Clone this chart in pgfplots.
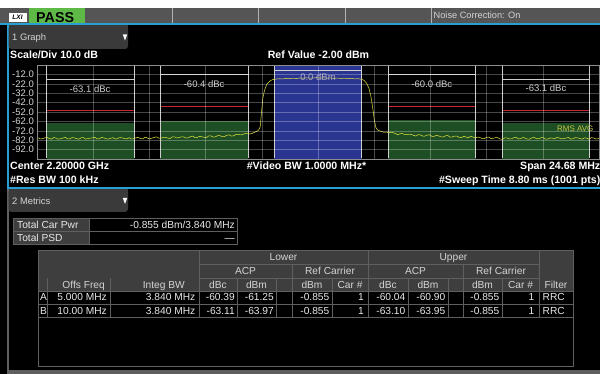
\documentclass[border=0pt]{standalone}
\usepackage{fontspec}
\setmainfont{Liberation Sans}
\usepackage{pgfplots}
\pgfplotsset{compat=1.18}
\definecolor{trace}{RGB}{228,228,60}
\definecolor{greenbox}{RGB}{30,78,36}
\definecolor{bluebox}{RGB}{42,52,145}
\definecolor{limred}{RGB}{200,40,45}
\definecolor{bracket}{RGB}{205,205,205}
\definecolor{topgray}{RGB}{85,85,85}
\definecolor{bluebar}{RGB}{40,160,215}
\definecolor{dropgray}{RGB}{58,58,58}
\definecolor{passgreen}{RGB}{95,185,70}
\definecolor{hdrgray}{RGB}{62,62,62}
\definecolor{cellline}{RGB}{95,95,95}
\definecolor{hdrtext}{RGB}{212,212,212}
\definecolor{datatext}{RGB}{232,232,232}
\definecolor{rmsavg}{RGB}{200,200,70}
\newcommand{\fs}[1]{\fontsize{#1}{#1}\selectfont}
\begin{document}
\begin{tikzpicture}[x=1pt,y=1pt]
% backgrounds
\fill[black] (0,0) rectangle (600,-374);
\fill[white] (0,0) rectangle (600,-8.3);
\fill[topgray] (0,-8.3) rectangle (600,-23.5);
\fill[bluebar] (0,-23.5) rectangle (600,-25.5);
\foreach \xx in {172,258,345,431} \draw[gray!60!white,line width=0.6pt] (\xx,-8.3)--(\xx,-23.5);
\fill[white] (8.5,-13) rectangle (26.5,-22);
\node[font=\bfseries\itshape\fs{6.5}] at (17.5,-17.6) {LXI};
\fill[passgreen] (28.5,-8.3) rectangle (85,-23.5);
\node[font=\bfseries\fs{14.3},anchor=base west,inner sep=0pt] at (36,-22.2) {PASS};
\node[font=\fs{9.2},text=hdrtext,anchor=base west,inner sep=0pt] at (433.5,-19) {Noise Correction: On};
% graph window frame
\fill[bluebar] (6.5,-24) rectangle (8.5,-189.5);
\fill[bluebar] (6.5,-187.5) rectangle (600,-189.5);
% 1 Graph dropdown
\fill[dropgray,rounded corners=3pt] (8.5,-25.5) rectangle (128,-49);
\fill[dropgray] (8.5,-25.5) rectangle (128,-35);
\node[font=\fs{9.4},text=hdrtext,anchor=base west,inner sep=0pt] at (12,-41) {1 Graph};
\fill[white] (122.8,-34.5)--(127.2,-34.5)--(125,-40.5)--cycle;
% header texts of graph
\node[font=\bfseries\fs{10.6},text=white,anchor=base west,inner sep=0pt] at (10,-59) {Scale/Div 10.0 dB};
\node[font=\bfseries\fs{10.6},text=white,anchor=base,inner sep=0pt] at (318.5,-59) {Ref Value -2.00 dBm};
\node[font=\bfseries\fs{10.6},text=white,anchor=base west,inner sep=0pt] at (10,-170) {Center 2.20000 GHz};
\node[font=\bfseries\fs{10.6},text=white,anchor=base,inner sep=0pt] at (306.5,-170) {\#Video BW 1.0000 MHz*};
\node[font=\bfseries\fs{10.6},text=white,anchor=base east,inner sep=0pt] at (600.5,-170) {Span 24.68 MHz};
\node[font=\bfseries\fs{10.6},text=white,anchor=base west,inner sep=0pt] at (10,-184) {\#Res BW 100 kHz};
\node[font=\bfseries\fs{10.6},text=white,anchor=base east,inner sep=0pt] at (600.5,-184) {\#Sweep Time 8.80 ms (1001 pts)};
% metrics window
\fill[cellline] (6.5,-189.5) rectangle (8.5,-374);
\fill[cellline] (6.5,-369.5) rectangle (600,-374);
\fill[dropgray,rounded corners=3pt] (8.5,-189.5) rectangle (128,-212);
\fill[dropgray] (8.5,-189.5) rectangle (128,-198);
\node[font=\fs{9.4},text=hdrtext,anchor=base west,inner sep=0pt] at (12,-204.5) {2 Metrics};
\fill[white] (122.8,-198)--(127.2,-198)--(125,-204)--cycle;
% table 1
\fill[hdrgray] (13.5,-218.5) rectangle (89,-244.5);
\draw[cellline,line width=0.8pt] (13.5,-218.5) rectangle (237.5,-244.5);
\draw[cellline,line width=0.8pt] (89,-218.5)--(89,-244.5) (13.5,-231.5)--(237.5,-231.5);
\node[font=\fs{10.2},text=datatext,anchor=base west,inner sep=0pt] at (17,-228.7) {Total Car Pwr};
\node[font=\fs{10.2},text=datatext,anchor=base west,inner sep=0pt] at (17,-241.7) {Total PSD};
\node[font=\fs{10.2},text=datatext,anchor=base east,inner sep=0pt] at (235,-228.7) {-0.855 dBm/3.840 MHz};
\node[font=\fs{10.2},text=datatext,anchor=base east,inner sep=0pt] at (235,-241.7) {---};
% table 2
\fill[hdrgray] (38,-250) rectangle (573.5,-291);
\draw[cellline,line width=0.8pt] (38,-250) rectangle (573.5,-366);
\draw[cellline,line width=0.8pt] (199,-264.5)--(539,-264.5) (199,-278)--(539,-278)
  (38,-291)--(573.5,-291) (38,-304)--(573.5,-304) (38,-317)--(573.5,-317);
\foreach \xx in {47.5,110,237,276,332,408,448,502} \draw[cellline,line width=0.8pt] (\xx,-278)--(\xx,-317);
\foreach \xx in {199,368,539} \draw[cellline,line width=0.8pt] (\xx,-250)--(\xx,-317);
\foreach \xx in {292,463} \draw[cellline,line width=0.8pt] (\xx,-264.5)--(\xx,-317);
\tikzset{ht/.style={font=\fs{10.2},text=hdrtext,inner sep=0pt},dt/.style={font=\fs{10.2},text=datatext,inner sep=0pt}}
\node[ht,anchor=base] at (283.5,-260.7) {Lower};
\node[ht,anchor=base] at (453.5,-260.7) {Upper};
\node[ht,anchor=base] at (245.5,-274.5) {ACP};
\node[ht,anchor=base] at (330,-274.5) {Ref Carrier};
\node[ht,anchor=base] at (415.5,-274.5) {ACP};
\node[ht,anchor=base] at (501,-274.5) {Ref Carrier};
\node[ht,anchor=base east] at (105,-288.2) {Offs Freq};
\node[ht,anchor=base east] at (185,-288.2) {Integ BW};
\node[ht,anchor=base] at (218,-288.2) {dBc};
\node[ht,anchor=base] at (256.5,-288.2) {dBm};
\node[ht,anchor=base] at (312,-288.2) {dBm};
\node[ht,anchor=base] at (350,-288.2) {Car \#};
\node[ht,anchor=base] at (388,-288.2) {dBc};
\node[ht,anchor=base] at (428,-288.2) {dBm};
\node[ht,anchor=base] at (482.5,-288.2) {dBm};
\node[ht,anchor=base] at (520.5,-288.2) {Car \#};
\node[ht,anchor=base] at (556,-288.2) {Filter};
% row A
\node[dt,anchor=base west] at (40,-300.9) {A};
\node[dt,anchor=base east] at (107,-300.9) {5.000 MHz};
\node[dt,anchor=base east] at (195.5,-300.9) {3.840 MHz};
\node[dt,anchor=base east] at (235,-300.9) {-60.39};
\node[dt,anchor=base east] at (274,-300.9) {-61.25};
\node[dt,anchor=base east] at (329.5,-300.9) {-0.855};
\node[dt,anchor=base east] at (364,-300.9) {1};
\node[dt,anchor=base east] at (405.5,-300.9) {-60.04};
\node[dt,anchor=base east] at (445.5,-300.9) {-60.90};
\node[dt,anchor=base east] at (499.5,-300.9) {-0.855};
\node[dt,anchor=base east] at (534.5,-300.9) {1};
\node[dt,anchor=base west] at (542.5,-300.9) {RRC};
% row B
\node[dt,anchor=base west] at (40,-314.2) {B};
\node[dt,anchor=base east] at (107,-314.2) {10.00 MHz};
\node[dt,anchor=base east] at (195.5,-314.2) {3.840 MHz};
\node[dt,anchor=base east] at (235,-314.2) {-63.11};
\node[dt,anchor=base east] at (274,-314.2) {-63.97};
\node[dt,anchor=base east] at (329.5,-314.2) {-0.855};
\node[dt,anchor=base east] at (364,-314.2) {1};
\node[dt,anchor=base east] at (405.5,-314.2) {-63.10};
\node[dt,anchor=base east] at (445.5,-314.2) {-63.95};
\node[dt,anchor=base east] at (499.5,-314.2) {-0.855};
\node[dt,anchor=base east] at (534.5,-314.2) {1};
\node[dt,anchor=base west] at (542.5,-314.2) {RRC};
% spectrum axis
\begin{axis}[at={(37pt,-159pt)},width=562pt,height=94pt,scale only axis,
  xmin=-12.34,xmax=12.34,ymin=-102,ymax=-2,
  xtick={-12.34,-9.872,-7.404,-4.936,-2.468,0,2.468,4.936,7.404,9.872,12.34},
  xticklabels={},
  ytick={-12,-22,-32,-42,-52,-62,-72,-82,-92},
  yticklabels={-12.0,-22.0,-32.0,-42.0,-52.0,-62.0,-72.0,-82.0,-92.0},
  yticklabel style={font=\fs{9.5},text=hdrtext,anchor=east,inner sep=0pt,xshift=-3pt},
  major tick length=0pt,
  grid=major,major grid style={white,opacity=0.28,line width=0.5pt},
  axis line style={draw=white!55!black,line width=0.6pt},
  axis on top]
% carrier and offset boxes
\addplot[fill=bluebox,draw=none] coordinates {(-1.92,-102)(-1.92,-2)(1.92,-2)(1.92,-102)} -- cycle;
\addplot[fill=greenbox,draw=none] coordinates {(-11.92,-102)(-11.92,-63.97)(-8.08,-63.97)(-8.08,-102)} -- cycle;
\addplot[fill=greenbox,draw=none] coordinates {(-6.92,-102)(-6.92,-61.25)(-3.08,-61.25)(-3.08,-102)} -- cycle;
\addplot[fill=greenbox,draw=none] coordinates {(3.08,-102)(3.08,-60.90)(6.92,-60.90)(6.92,-102)} -- cycle;
\addplot[fill=greenbox,draw=none] coordinates {(8.08,-102)(8.08,-63.95)(11.92,-63.95)(11.92,-102)} -- cycle;
% limit lines
\addplot[limred,line width=1.1pt] coordinates {(-11.92,-50.855)(-8.08,-50.855)};
\addplot[limred,line width=1.1pt] coordinates {(-6.92,-45.855)(-3.08,-45.855)};
\addplot[limred,line width=1.1pt] coordinates {(3.08,-45.855)(6.92,-45.855)};
\addplot[limred,line width=1.1pt] coordinates {(8.08,-50.855)(11.92,-50.855)};
% brackets
\pgfplotsinvokeforeach{-11.92,-8.08,-6.92,-3.08,-1.92,1.92,3.08,6.92,8.08,11.92}{
  \addplot[bracket,line width=0.6pt] coordinates {(#1,-2.5)(#1,-101)};
}
\addplot[bracket,line width=0.6pt] coordinates {(-11.92,-17.2)(-8.08,-17.2)};
\addplot[bracket,line width=0.6pt] coordinates {(-6.92,-11.9)(-3.08,-11.9)};
\addplot[bracket,line width=0.6pt] coordinates {(-1.92,-7.3)(1.92,-7.3)};
\addplot[bracket,line width=0.6pt] coordinates {(3.08,-11.9)(6.92,-11.9)};
\addplot[bracket,line width=0.6pt] coordinates {(8.08,-17.2)(11.92,-17.2)};
% trace
\addplot[trace,line width=0.5pt] table {
x y
-12.34 -79.8
-12.3 -79.4
-12.2 -80.7
-12.1 -80.4
-12.0 -79.5
-11.9 -79.1
-11.8 -80.2
-11.7 -80.8
-11.6 -79.1
-11.5 -79.8
-11.4 -81.0
-11.3 -80.3
-11.2 -79.7
-11.1 -78.9
-11.0 -80.5
-10.9 -80.6
-10.8 -79.2
-10.7 -79.6
-10.6 -80.3
-10.5 -81.0
-10.4 -79.4
-10.3 -79.3
-10.2 -80.9
-10.1 -80.2
-10.0 -79.8
-9.9 -79.5
-9.8 -79.0
-9.7 -80.7
-9.6 -80.4
-9.5 -79.0
-9.4 -79.6
-9.3 -80.5
-9.2 -80.8
-9.1 -79.9
-9.0 -79.3
-8.9 -80.9
-8.8 -80.1
-8.7 -79.2
-8.6 -79.5
-8.5 -80.3
-8.4 -80.6
-8.3 -79.4
-8.2 -80.7
-8.1 -80.4
-8.0 -79.5
-7.9 -79.0
-7.8 -80.1
-7.7 -80.6
-7.6 -78.8
-7.5 -79.5
-7.4 -80.7
-7.3 -79.9
-7.2 -79.1
-7.1 -78.4
-7.0 -79.8
-6.9 -80.0
-6.8 -78.9
-6.7 -78.9
-6.6 -79.7
-6.5 -80.2
-6.4 -78.5
-6.3 -78.4
-6.2 -79.6
-6.1 -79.2
-6.0 -78.4
-5.9 -78.4
-5.8 -79.7
-5.7 -79.5
-5.6 -78.1
-5.5 -77.7
-5.4 -79.2
-5.3 -79.1
-5.2 -77.9
-5.1 -78.4
-5.0 -78.9
-4.9 -79.3
-4.8 -77.5
-4.7 -77.4
-4.6 -78.8
-4.5 -78.3
-4.4 -77.1
-4.3 -77.2
-4.2 -78.3
-4.1 -78.0
-4.0 -76.8
-3.9 -76.3
-3.8 -77.6
-3.7 -77.4
-3.6 -75.7
-3.5 -75.8
-3.4 -76.4
-3.3 -75.9
-3.2 -74.8
-3.1 -74.5
-3.0 -75.4
-2.9 -74.9
-2.82 -73.9
-2.75 -73.2
-2.62 -71.6
-2.54 -68.0
-2.48 -52.0
-2.42 -37.0
-2.35 -29.0
-2.25 -22.5
-2.12 -19.2
-2.0 -17.6
-1.85 -17.0
-1.7 -16.6
-1.55 -16.9
-1.4 -16.3
-1.25 -16.5
-1.1 -16.0
-0.95 -16.4
-0.8 -15.8
-0.65 -16.1
-0.5 -15.6
-0.35 -16.0
-0.2 -15.7
-0.05 -15.5
0.1 -15.9
0.25 -15.6
0.4 -16.0
0.55 -15.7
0.7 -16.2
0.85 -15.9
1.0 -16.3
1.15 -16.0
1.3 -16.5
1.45 -16.2
1.6 -16.7
1.75 -16.6
1.9 -17.1
2.02 -18.3
2.14 -21.5
2.24 -27.0
2.32 -35.0
2.40 -47.0
2.47 -60.0
2.54 -68.5
2.62 -71.3
2.75 -72.4
2.9 -73.6
3.0 -73.2
3.1 -74.1
3.2 -73.6
3.3 -74.0
3.4 -75.0
3.5 -76.1
3.6 -75.2
3.7 -74.8
3.8 -76.0
3.9 -76.2
4.0 -75.6
4.1 -75.9
4.2 -76.9
4.3 -77.6
4.4 -76.1
4.5 -76.4
4.6 -77.7
4.7 -77.6
4.8 -76.6
4.9 -76.2
5.0 -77.9
5.1 -77.8
5.2 -76.9
5.3 -77.4
5.4 -78.5
5.5 -78.6
5.6 -77.3
5.7 -77.0
5.8 -78.8
5.9 -78.5
6.0 -77.6
6.1 -77.7
6.2 -79.0
6.3 -79.2
6.4 -77.9
6.5 -78.6
6.6 -79.4
6.7 -77.9
6.8 -78.6
6.9 -79.7
7.0 -78.7
7.1 -79.0
7.2 -80.2
7.3 -80.4
7.4 -78.9
7.5 -78.8
7.6 -80.3
7.7 -80.0
7.8 -79.2
7.9 -79.4
8.0 -80.8
8.1 -81.0
8.2 -79.5
8.3 -79.6
8.4 -80.7
8.5 -80.5
8.6 -79.3
8.7 -78.9
8.8 -80.6
8.9 -80.3
9.0 -79.1
9.1 -79.8
9.2 -80.9
9.3 -80.8
9.4 -79.4
9.5 -79.1
9.6 -80.5
9.7 -80.4
9.8 -79.3
9.9 -79.4
10.0 -80.8
10.1 -80.7
10.2 -79.6
10.3 -79.9
10.4 -80.4
10.5 -79.0
10.6 -79.7
10.7 -80.6
10.8 -80.2
10.9 -79.7
11.0 -79.0
11.1 -80.9
11.2 -80.4
11.3 -79.2
11.4 -79.6
11.5 -80.2
11.6 -80.9
11.7 -79.5
11.8 -79.8
11.9 -81.0
12.0 -79.3
12.1 -79.6
12.2 -80.6
12.3 -80.5
12.34 -80.0
};
% labels
\node[font=\fs{9.5},text=bracket] at (axis cs:-10.01,-27.5) {-63.1 dBc};
\node[font=\fs{9.5},text=bracket] at (axis cs:-5.0,-22.2) {-60.4 dBc};
\node[font=\fs{9.5},text=bracket,opacity=0.75] at (axis cs:0,-14.8) {0.0 dBm};
\node[font=\fs{9.5},text=bracket] at (axis cs:5.0,-21.9) {-60.0 dBc};
\node[font=\fs{9.5},text=bracket] at (axis cs:10.01,-26.8) {-63.1 dBc};
\node[font=\fs{8},text=rmsavg,anchor=east] at (axis cs:12.25,-70.1) {RMS AVG};
\end{axis}
\pgfresetboundingbox
\path (0,0) rectangle (600,-374);
\end{tikzpicture}
\end{document}
